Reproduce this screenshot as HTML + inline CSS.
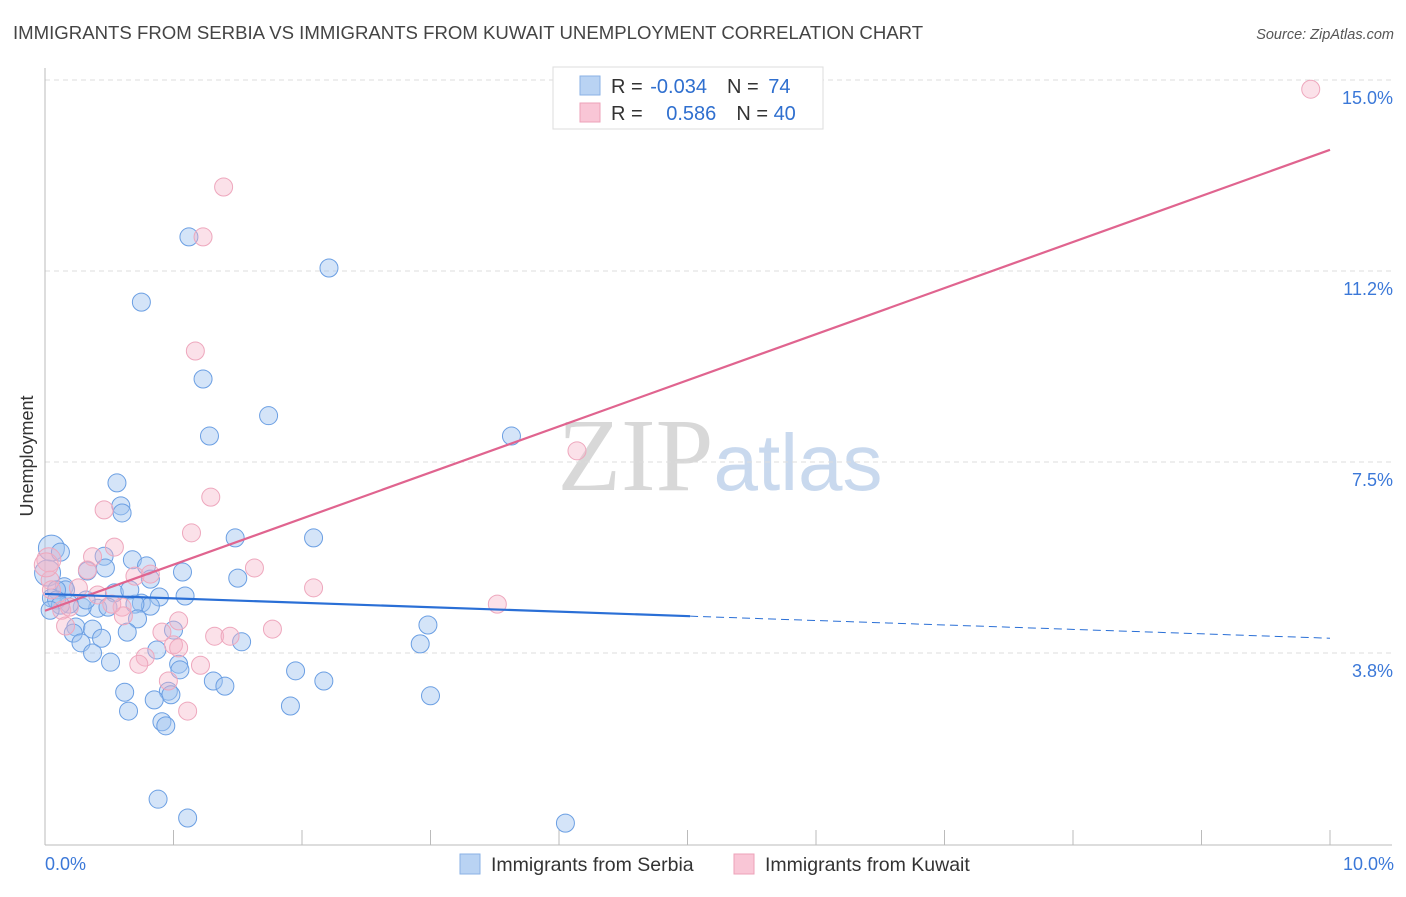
<!DOCTYPE html>
<html><head><meta charset="utf-8"><style>
body{margin:0;background:#fff;font-family:"Liberation Sans",sans-serif;}
svg text{font-family:"Liberation Sans",sans-serif;}
</style></head><body>
<svg id="chart" width="1406" height="892" xmlns="http://www.w3.org/2000/svg">
<text x="13" y="39" font-size="18.6" fill="#444">IMMIGRANTS FROM SERBIA VS IMMIGRANTS FROM KUWAIT UNEMPLOYMENT CORRELATION CHART</text>
<text x="1394" y="39" font-size="14.5" fill="#555" text-anchor="end" font-style="italic">Source: ZipAtlas.com</text>
<text x="720" y="490" font-size="104" text-anchor="middle"><tspan fill="#d8d8d8" font-family="Liberation Serif">ZIP</tspan><tspan fill="#c9d9ee" font-size="80">atlas</tspan></text>
<g id="grid"></g>
<g id="axes"></g>
<g id="marks"></g>
<text transform="translate(33,456) rotate(-90)" font-size="18" fill="#333" text-anchor="middle">Unemployment</text>
<g>
<rect x="553" y="67" width="270" height="62" fill="#fff" stroke="#ddd"/>
<rect x="580" y="76" width="20" height="19" fill="#b9d3f3" stroke="#8ab2e6"/>
<rect x="580" y="103" width="20" height="19" fill="#f9c6d6" stroke="#eda2b8"/>
<text x="611" y="93" font-size="20" fill="#333">R = <tspan fill="#2f6fcf" dx="2">-0.034</tspan><tspan dx="20">N = </tspan><tspan fill="#2f6fcf" dx="4">74</tspan></text>
<text x="611" y="120" font-size="20" fill="#333">R = <tspan fill="#2f6fcf" dx="18">0.586</tspan><tspan dx="20">N = </tspan><tspan fill="#2f6fcf">40</tspan></text>
</g>
<g>
<rect x="460" y="854" width="20" height="20" fill="#b9d3f3" stroke="#8ab2e6"/>
<text x="491" y="871" font-size="19.5" fill="#333">Immigrants from Serbia</text>
<rect x="734" y="854" width="20" height="20" fill="#f9c6d6" stroke="#eda2b8"/>
<text x="765" y="871" font-size="19.5" fill="#333">Immigrants from Kuwait</text>
</g>
</svg>
<script>
const yTicks=[3.8,7.5,11.2,15.0];
const yTickVals=[3.75,7.5,11.25,15.0];
const xTickLabels=["0.0%","10.0%"];
const serbiaX=[1.12,2.21,0.75,1.23,1.74,1.28,3.63,0.56,0.59,0.60,1.48,2.09,0.05,0.12,0.46,0.68,0.47,0.79,0.33,1.07,0.82,1.50,0.02,0.15,0.16,0.09,0.54,0.05,0.89,1.09,0.75,0.82,0.70,0.41,0.49,0.29,0.19,0.09,0.12,0.72,0.24,0.37,0.64,0.22,0.44,1.00,1.53,0.28,2.98,2.92,0.37,0.87,0.51,1.04,1.05,1.95,1.31,1.40,2.17,0.62,0.96,0.98,0.85,3.00,1.91,0.65,0.91,0.94,0.88,1.11,4.05,0.04,0.32,0.66];
const serbiaY=[11.92,11.31,10.64,9.13,8.41,8.01,8.01,7.09,6.64,6.50,6.01,6.01,5.81,5.73,5.65,5.58,5.42,5.46,5.36,5.34,5.20,5.22,5.32,5.05,4.99,4.99,4.93,4.83,4.85,4.87,4.73,4.67,4.71,4.63,4.65,4.65,4.71,4.79,4.69,4.42,4.26,4.22,4.16,4.14,4.04,4.20,3.97,3.95,4.30,3.93,3.75,3.81,3.57,3.53,3.42,3.40,3.20,3.10,3.20,2.98,3.00,2.93,2.83,2.91,2.71,2.61,2.40,2.32,0.88,0.51,0.41,4.59,4.79,4.99];
const kuwaitX=[9.85,1.39,1.23,1.17,4.14,1.29,0.46,1.14,0.54,1.63,0.37,0.03,0.04,0.70,0.82,2.09,3.52,0.33,0.26,0.13,0.19,0.41,0.60,0.61,0.16,0.52,1.04,0.91,1.32,1.44,1.77,1.00,1.04,0.78,0.73,1.21,0.96,1.11,0.05,0.01];
const kuwaitY=[14.82,12.90,11.92,9.68,7.72,6.81,6.56,6.11,5.83,5.42,5.64,5.58,5.18,5.26,5.30,5.03,4.71,5.38,5.03,4.59,4.65,4.89,4.65,4.48,4.28,4.71,4.38,4.16,4.08,4.08,4.22,3.91,3.85,3.67,3.53,3.51,3.20,2.61,4.99,5.48];
const serbiaTrend=[4.91,4.04];
const kuwaitTrend=[4.58,13.63];
const solidEnd=5.02;
const NS="http://www.w3.org/2000/svg";
const sx=v=>45+v*128.5, sy=v=>844-v*50.93;
function mk(t,a,p){const e=document.createElementNS(NS,t);for(const k in a)e.setAttribute(k,a[k]);p.appendChild(e);return e;}
const grid=document.getElementById('grid'),axes=document.getElementById('axes'),marks=document.getElementById('marks');
yTickVals.forEach((v,i)=>{
 const l=mk('line',{x1:45,x2:1392,y1:sy(v),y2:sy(v),stroke:'#ddd','stroke-dasharray':'5,4'},grid);
 
 
 const t=mk('text',{x:1393,y:sy(v)+24,'font-size':18,fill:'#3b78d8','text-anchor':'end'},axes);
 t.textContent=yTicks[i].toFixed(1)+'%';
 
 
});
let a=mk('line',{x1:45,x2:45,y1:68,y2:845,stroke:'#bbb'},axes);


a=mk('line',{x1:45,x2:1392,y1:845,y2:845,stroke:'#bbb'},axes);


for(let i=0;i<=10;i++){const t=mk('line',{x1:sx(i),x2:sx(i),y1:830,y2:845,stroke:'#bbb'},axes);
 
 }
[[0,'start',45],[10,'end',1394]].forEach((d,i)=>{const t=mk('text',{x:d[2],y:870,'font-size':18,fill:'#3b78d8','text-anchor':d[1]},axes);t.textContent=xTickLabels[i];
 
 });
serbiaX.forEach((x,i)=>{const c=mk('circle',{cx:sx(x),cy:sy(serbiaY[i]),r:(i==12||i==22)?13:9,fill:'rgba(160,195,240,0.45)',stroke:'#6b9fe3','stroke-width':1},marks);
 
 });
kuwaitX.forEach((x,i)=>{const c=mk('circle',{cx:sx(x),cy:sy(kuwaitY[i]),r:(i==11||i==39)?12:9,fill:'rgba(245,180,200,0.4)',stroke:'#eea7bd','stroke-width':1},marks);
 
 });
const at=(tr,x)=>tr[0]+(tr[1]-tr[0])*x/10;
let ln=mk('line',{x1:sx(0),y1:sy(kuwaitTrend[0]),x2:sx(10),y2:sy(kuwaitTrend[1]),stroke:'#e0648f','stroke-width':2.2},marks);


ln=mk('line',{x1:sx(0),y1:sy(serbiaTrend[0]),x2:sx(solidEnd),y2:sy(at(serbiaTrend,solidEnd)),stroke:'#2a6fd6','stroke-width':2.2},marks);


ln=mk('line',{x1:sx(solidEnd),y1:sy(at(serbiaTrend,solidEnd)),x2:sx(10),y2:sy(serbiaTrend[1]),stroke:'#2a6fd6','stroke-width':1,'stroke-dasharray':'8,5'},marks);


</script>
</body></html>
